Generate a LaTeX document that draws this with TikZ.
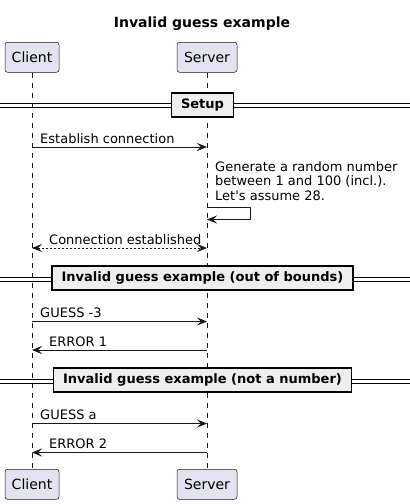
\documentclass[tikz,border=0pt]{standalone}
\usepackage{fontspec}
\setmainfont{DejaVu Sans}
\newfontfamily\nomapfont{DejaVu Sans}
\usetikzlibrary{arrows.meta}
\definecolor{partfill}{HTML}{E2E2F0}
\definecolor{partdraw}{HTML}{181818}
\definecolor{divfill}{HTML}{EEEEEE}
\tikzset{
  participant/.style={draw=partdraw, fill=partfill, rounded corners=2.5pt, line width=0.5pt,
    minimum height=30pt, inner xsep=5pt, font=\fontsize{14}{16}\selectfont, anchor=north},
  lifeline/.style={draw=partdraw, line width=0.5pt, dash pattern=on 5pt off 5pt},
  msg/.style={draw=partdraw, line width=1pt, -{Stealth[length=10pt,width=8pt,inset=4pt]}},
  msgtext/.style={font=\fontsize{13}{14.5}\selectfont, inner sep=0pt, anchor=base west},
  divbox/.style={draw=black, fill=divfill, line width=1.5pt, minimum height=24pt, inner xsep=9.5pt,
    font=\bfseries\fontsize{13}{15}\selectfont},
  divline/.style={draw=black, line width=1pt},
}
\begin{document}
\begin{tikzpicture}[x=1pt,y=-1pt]
\useasboundingbox (0,0) rectangle (410,504);
% title
\node[font=\bfseries\fontsize{14}{16}\selectfont, inner sep=0pt, anchor=base] (title) at (202,27.5) {Invalid guess example};
% participants
\node[participant, minimum width=54pt] (cl) at (32,42) {Client};
\node[participant, minimum width=60pt] (sv) at (207,42) {Server};
\node[participant, minimum width=54pt] (clb) at (32,469) {Client};
\node[participant, minimum width=60pt] (svb) at (207,469) {Server};
\draw[lifeline] (cl.south) -- (clb.north);
\draw[lifeline] (sv.south) -- (svb.north);
% dividers
\foreach \y/\n in {105.5/d1, 279/d2, 381/d3}{
  \coordinate (\n l) at (0,\y);
  \coordinate (\n r) at (410,\y);
  \draw[divline] ([yshift=-2pt]\n l) -- ([yshift=-2pt]\n r);
  \draw[divline] ([yshift=2pt]\n l) -- ([yshift=2pt]\n r);
}
\node[divbox] (div1) at (202.5,105) {Setup};
\node[divbox] (div2) at (202.5,278) {Invalid guess example (out of bounds)};
\node[divbox] (div3) at (202.5,380) {Invalid guess example (not a number)};
% messages
\coordinate (c1) at (cl.south |- 0,147);
\coordinate (s1) at (sv.south |- 0,147);
\draw[msg] (c1) -- (s1);
\node[msgtext] (t1) at (40,143) {Establish connection};

\coordinate (s2a) at (sv.south |- 0,207.5);
\coordinate (s2b) at (sv.south |- 0,219.5);
\draw[msg] (s2a) -- (250.5,207.5) -- (250.5,219.5) -- (s2b);
\node[msgtext, align=left, anchor=north west] (t2) at (215,161) {Generate a random number\\between 1 and 100 (incl.).\\{\nomapfont Let's} assume 28.};

\coordinate (c3) at (cl.south |- 0,248);
\coordinate (s3) at (sv.south |- 0,248);
\draw[msg, {Stealth[length=10pt,width=8pt,inset=4pt]}-{Stealth[length=10pt,width=8pt,inset=4pt]}, dash pattern=on 2pt off 2pt] (c3) -- (s3);
\node[msgtext] (t3) at (49,244) {Connection established};

\coordinate (c4) at (cl.south |- 0,321.5);
\coordinate (s4) at (sv.south |- 0,321.5);
\draw[msg] (c4) -- (s4);
\node[msgtext] (t4) at (40,317.5) {GUESS -3};

\coordinate (c5) at (cl.south |- 0,350);
\coordinate (s5) at (sv.south |- 0,350);
\draw[msg] (s5) -- (c5);
\node[msgtext] (t5) at (49,346) {ERROR 1};

\coordinate (c6) at (cl.south |- 0,423.5);
\coordinate (s6) at (sv.south |- 0,423.5);
\draw[msg] (c6) -- (s6);
\node[msgtext] (t6) at (40,419.5) {GUESS a};

\coordinate (c7) at (cl.south |- 0,452.5);
\coordinate (s7) at (sv.south |- 0,452.5);
\draw[msg] (s7) -- (c7);
\node[msgtext] (t7) at (49,448.5) {ERROR 2};
\end{tikzpicture}
\end{document}
